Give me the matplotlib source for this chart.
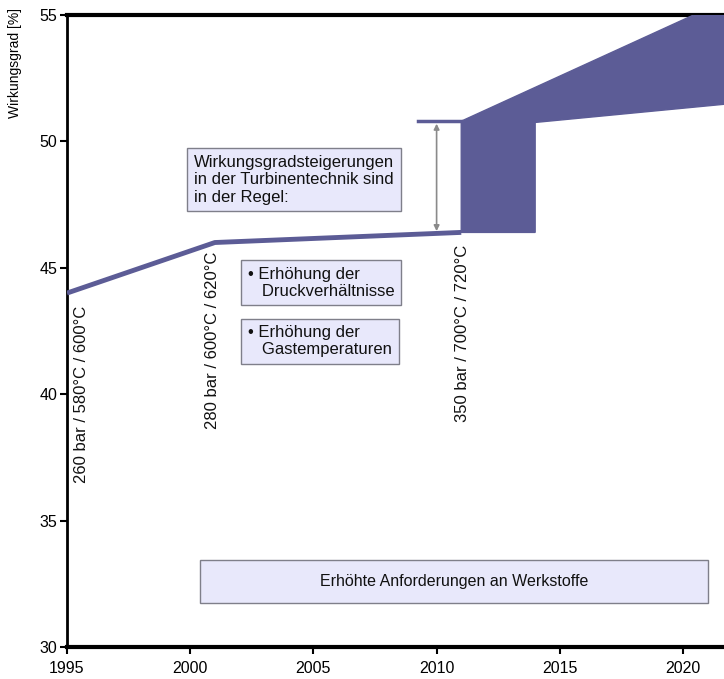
import matplotlib.pyplot as plt
from matplotlib.patches import Polygon

plt.rcParams['font.family'] = ['Liberation Sans', 'DejaVu Sans']

# efficiency path of steam power plants
years = [1995, 2001, 2011]
efficiency = [44.0, 46.0, 46.4]

# band of expected efficiency after 2011
band_upper_x = [2011, 2022]
band_upper_y = [50.8, 55.7]
band_lower_x = [2011, 2014, 2014, 2022]
band_lower_y = [46.4, 46.4, 50.75, 51.5]

# steam parameters at each step
steps = [1995.6, 2000.9, 2011.07]
step_labels = ["260 bar / 580°C / 600°C", "280 bar / 600°C / 620°C",
               "350 bar / 700°C / 720°C"]
step_tops = [43.5, 45.65, 45.9]

xticks = [1995, 2000, 2005, 2010, 2015, 2020]
yticks = [30, 35, 40, 45, 50, 55]

purple = '#5c5c96'
box_fill = '#e8e8fb'
box_edge = '#7f7f8a'
ink = '#111111'

fig = plt.figure(figsize=(7.24, 6.79), dpi=100)
ax = fig.add_axes([67 / 724, 32 / 679, 657 / 724, 632 / 679])
ax.set_xlim(1995, 1995 + 657 / 24.64)
ax.set_ylim(30, 55)

ax.plot(years, efficiency, color=purple, lw=3.5, solid_capstyle='butt', zorder=3)

poly_x = band_upper_x + band_lower_x[::-1]
poly_y = band_upper_y + band_lower_y[::-1]
ax.add_patch(Polygon(list(zip(poly_x, poly_y)), closed=True, facecolor=purple,
                     edgecolor=purple, lw=1, zorder=3))

# bracket at the 2010 jump
ax.plot([2009.25, 2011], [band_upper_y[0], band_upper_y[0]], color=purple, lw=2.5,
        zorder=3)
ax.annotate('', xy=(2010.0, 46.45), xytext=(2010.0, 50.7),
            arrowprops=dict(arrowstyle='<|-|>', color='#8a8a8a', lw=1.2,
                            mutation_scale=8, shrinkA=0, shrinkB=0))

for x, lab, top in zip(steps, step_labels, step_tops):
    ax.text(x, top, lab, rotation=90, ha='center', va='top', fontsize=12,
            color=ink)

box = dict(boxstyle='square,pad=0.4', facecolor=box_fill, edgecolor=box_edge, lw=1)
ax.text(2000.15, 48.48,
        "Wirkungsgradsteigerungen\nin der Turbinentechnik sind\nin der Regel:",
        ha='left', va='center', fontsize=12, linespacing=1.2, color=ink,
        bbox=box)
ax.text(2002.35, 44.41, "• Erhöhung der\n   Druckverhältnisse", ha='left',
        va='center', fontsize=12, linespacing=1.15, color=ink, bbox=box)
ax.text(2002.35, 42.1, "• Erhöhung der\n   Gastemperaturen", ha='left',
        va='center', fontsize=12, linespacing=1.15, color=ink, bbox=box)

ax.add_patch(plt.Rectangle((2000.4, 31.75), 20.6, 1.7, facecolor=box_fill,
                           edgecolor=box_edge, lw=1, zorder=2))
ax.text(2010.7, 32.6, "Erhöhte Anforderungen an Werkstoffe", ha='center',
        va='center', fontsize=11.5, color=ink, zorder=3)

ax.set_xticks(xticks)
ax.set_yticks(yticks)
ax.tick_params(axis='both', direction='out', length=5, width=1.5, labelsize=11.5)
ax.tick_params(axis='x', pad=5)
ax.tick_params(axis='y', pad=2)
ax.spines['right'].set_visible(False)
ax.spines['top'].set_linewidth(3)
ax.spines['bottom'].set_linewidth(3)
ax.spines['left'].set_linewidth(2)

fig.text(15 / 724, 1 - 8 / 679, "Wirkungsgrad [%]", rotation=90, ha='center',
         va='top', fontsize=10)

fig.savefig('out.png', dpi=100)
